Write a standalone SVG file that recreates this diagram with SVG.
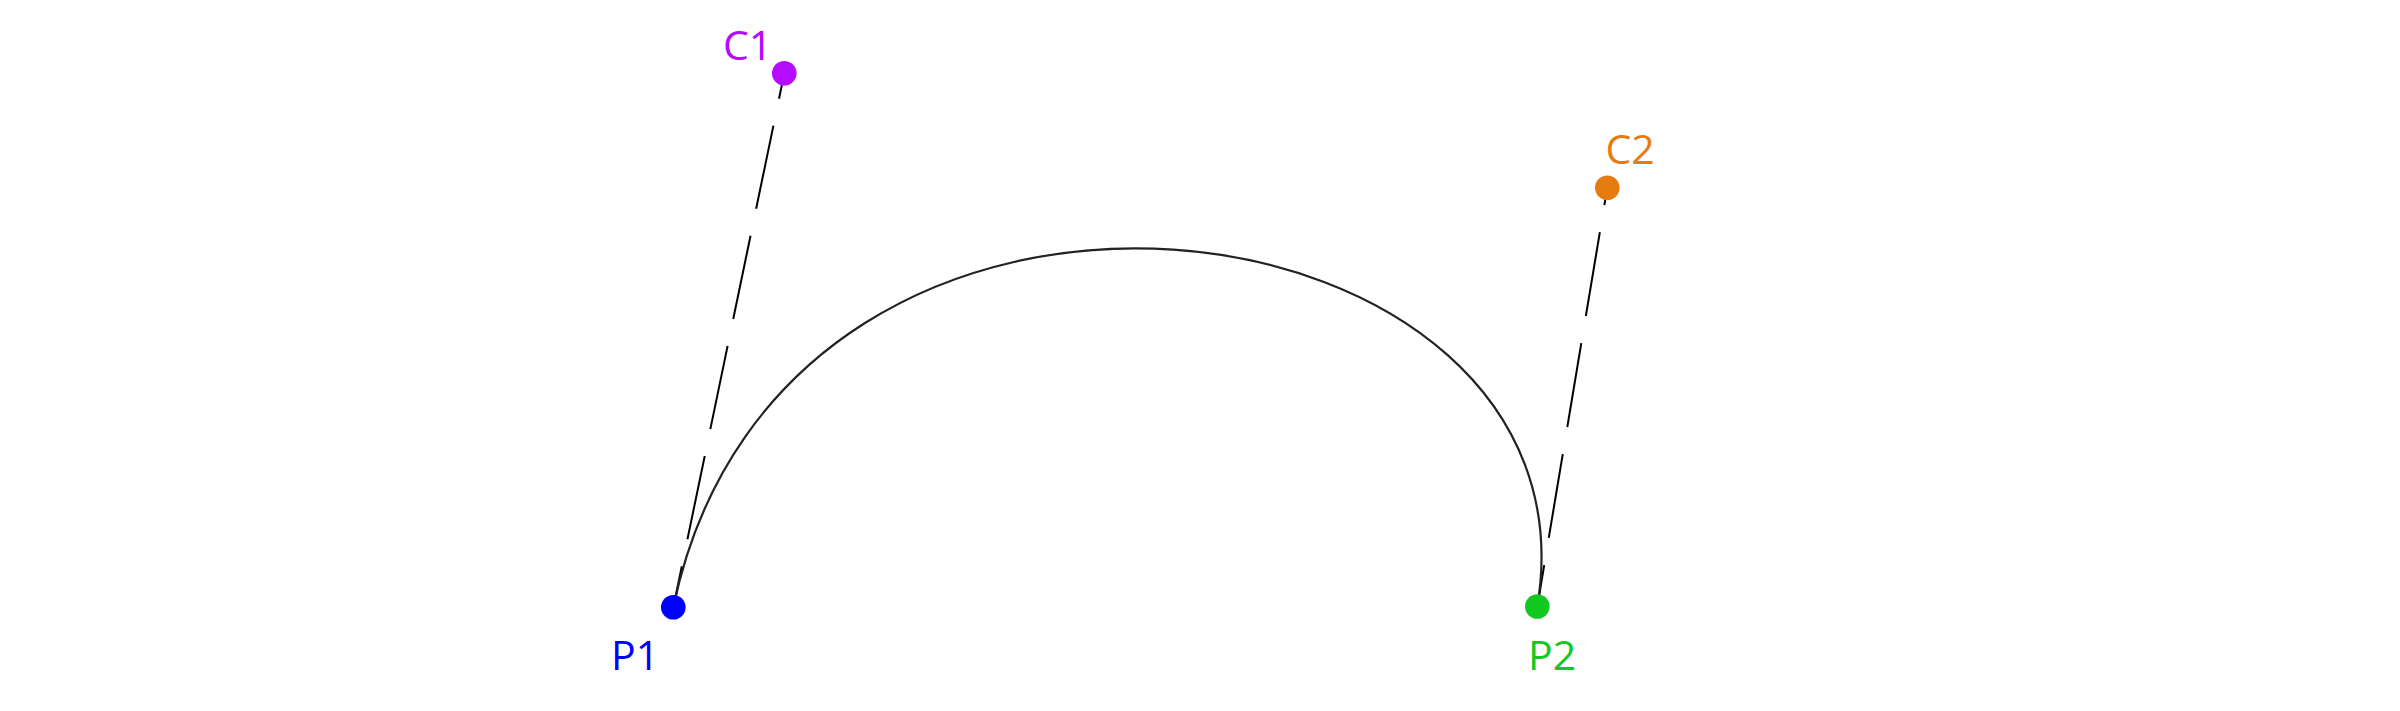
<svg xmlns="http://www.w3.org/2000/svg" width="2400" height="711" viewBox="0 0 2400 711">
<style>
.handle{stroke:#000;stroke-width:2;fill:none;stroke-dasharray:85 27.5;stroke-dashoffset:43}
.curve{stroke:#222;stroke-width:2.2;fill:none}
.lbl{font-family:"Open Sans","Noto Sans",sans-serif;font-size:41px}
</style>
<rect width="2400" height="711" fill="#fff"/>
<g id="connectors">
<line class="handle" x1="673.3" y1="607.3" x2="784.3" y2="73.3"/>
<line class="handle" x1="1537.3" y1="606.5" x2="1607.3" y2="187.7"/>
<path class="curve" d="M673.3,607.3 C784.3,73.3 1607.3,187.7 1537.3,606.5"/>
</g>
<g id="P1"><circle cx="673.3" cy="607.3" r="12.3" fill="#0000ff"/><text class="lbl" x="611" y="670" fill="#0000ff">P1</text></g>
<g id="C1"><circle cx="784.3" cy="73.3" r="12.3" fill="#b30cff"/><text class="lbl" x="723" y="60" fill="#b30cff">C1</text></g>
<g id="C2"><circle cx="1607.3" cy="187.7" r="12.3" fill="#e67c10"/><text class="lbl" x="1605.5" y="164.3" fill="#e67c10">C2</text></g>
<g id="P2"><circle cx="1537.3" cy="606.5" r="12.3" fill="#12c922"/><text class="lbl" x="1528" y="670" fill="#12c922">P2</text></g>
</svg>
